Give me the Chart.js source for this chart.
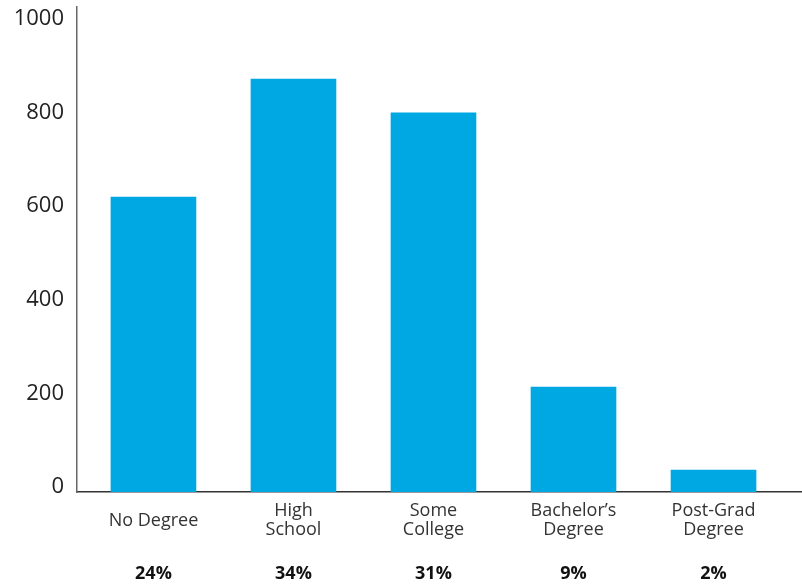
<!DOCTYPE html>
<html>
<head>
<meta charset="utf-8">
<script src="https://cdn.jsdelivr.net/npm/chart.js@4.4.1/dist/chart.umd.min.js"></script>
<style>
  html, body { margin: 0; padding: 0; background: #fff; }
  #wrap { width: 802px; height: 587px; }
</style>
</head>
<body>
<div id="wrap"><canvas id="eduChart" width="802" height="587"></canvas></div>
<script>
// data
const categories = [['No Degree'], ['High', 'School'], ['Some', 'College'], ['Bachelor\u2019s', 'Degree'], ['Post-Grad', 'Degree']];
const counts = [630, 882, 810, 224, 47];
const shares = ['24%', '34%', '31%', '9%', '2%'];
const yTicks = [0, 200, 400, 600, 800, 1000];

const FONT = "'Open Sans', 'Noto Sans', sans-serif";

// category axis spread: x index range so bars land 140px apart
const xMin = -0.546;
const xMax = 4.632;
const indexTicks = () => categories.map((c, i) => ({ value: i }));

const ctx = document.getElementById('eduChart').getContext('2d');
const eduChart = new Chart(ctx, {
    type: 'bar',
    data: {
        datasets: [{
            data: counts.map((v, i) => ({ x: i, y: v })),
            backgroundColor: '#00a8e3',
            borderWidth: 0,
            barThickness: 85,
            xAxisID: 'x',
            yAxisID: 'y'
        }]
    },
    options: {
        responsive: false,
        devicePixelRatio: 1,
        animation: false,
        layout: { autoPadding: false, padding: { top: 7, right: 0, left: 0, bottom: 0 } },
        plugins: { legend: { display: false }, tooltip: { enabled: false } },
        scales: {
            x: {
                type: 'linear',
                position: 'bottom',
                offset: false,
                min: xMin,
                max: xMax,
                weight: 0,
                grid: { display: false, drawTicks: false, offset: false },
                border: { display: true, color: '#333', width: 1.5 },
                afterBuildTicks: s => { s.ticks = indexTicks(); },
                afterFit: s => { s.height = 50; s.paddingLeft = 0; s.paddingRight = 0; },
                ticks: {
                    autoSkip: false,
                    maxRotation: 0,
                    padding: 19,
                    crossAlign: 'center',
                    color: '#333',
                    font: { family: FONT, size: 18, lineHeight: 1.06 },
                    callback: v => categories[v]
                }
            },
            pct: {
                type: 'linear',
                position: 'bottom',
                offset: false,
                min: xMin,
                max: xMax,
                weight: 1,
                grid: { display: false, drawTicks: false, offset: false },
                border: { display: false },
                afterBuildTicks: s => { s.ticks = indexTicks(); },
                afterFit: s => { s.height = 45; s.paddingLeft = 0; s.paddingRight = 0; },
                ticks: {
                    autoSkip: false,
                    maxRotation: 0,
                    padding: 21,
                    color: '#111',
                    font: { family: FONT, size: 18, weight: 'bold' },
                    callback: v => shares[v]
                }
            },
            y: {
                min: 0,
                max: 1036,
                grid: { display: false, drawTicks: false },
                border: { display: true, color: '#666', width: 1.5 },
                afterBuildTicks: s => { s.ticks = yTicks.map(v => ({ value: v })); },
                afterFit: s => { s.width = 77; s.paddingTop = 0; s.paddingBottom = 0; },
                ticks: {
                    padding: 13,
                    labelOffset: -5,
                    color: '#222',
                    font: { family: FONT, size: 22 },
                    callback: v => String(v)
                }
            }
        }
    }
});
</script>
</body>
</html>
